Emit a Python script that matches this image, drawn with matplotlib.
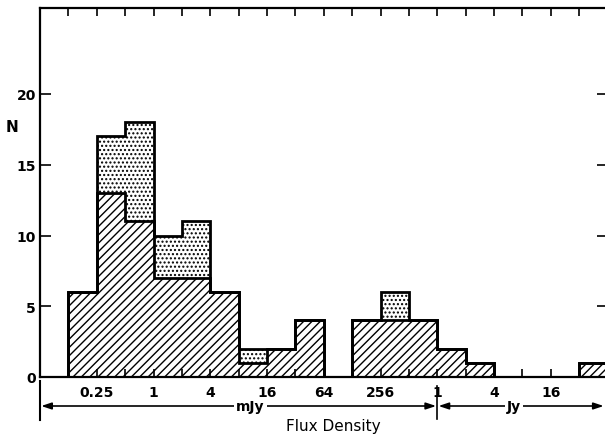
import numpy as np
import matplotlib
matplotlib.use("Agg")
import matplotlib.pyplot as plt
from matplotlib.lines import Line2D
from matplotlib.ticker import NullFormatter, NullLocator

# Bin edges in mJy (factor-of-2 bins)
bin_edges_mjy = [0.125, 0.25, 0.5, 1, 2, 4, 8, 16, 32, 64, 128, 256, 512,
                 1024, 2048, 4096, 8192, 16384, 32768, 65536]
# Hatched (lower) counts per bin
hatched_counts = [6, 13, 11, 7, 7, 6, 1, 2, 4, 0, 4, 4, 4, 2, 1, 0, 0, 0, 1]
# Total counts (hatched + stippled)
total_counts = [6, 17, 18, 10, 11, 6, 2, 2, 4, 0, 4, 6, 4, 2, 1, 0, 0, 0, 1]

tick_positions_mjy = [0.25, 1, 4, 16, 64, 256, 1024, 4096, 16384]
tick_labels = ["0.25", "1", "4", "16", "64", "256", "1", "4", "16"]
y_ticks = [0, 5, 10, 15, 20]

plt.rcParams['hatch.linewidth'] = 1.0
plt.rcParams['font.family'] = ['DejaVu Sans']

W, H = 605, 439
fig = plt.figure(figsize=(W / 100, H / 100), dpi=100)
x_left, x_right = 40, 607.6
y_bot, y_top = 378, 9
ax = fig.add_axes([x_left / W, 1 - y_bot / H, (x_right - x_left) / W, (y_bot - y_top) / H])
ax.set_xscale('log', base=2)
ax.set_xlim(1 / 16, 65536)
ax.set_ylim(0, 369 / 14.15)

edges = np.array(bin_edges_mjy, dtype=float)
total = np.array(total_counts, dtype=float)
hatched = np.array(hatched_counts, dtype=float)

# stippled region (total), then hatched on top
ax.stairs(total, edges, baseline=0, fill=True, facecolor='white',
          edgecolor='black', hatch='....', linewidth=0)
ax.stairs(hatched, edges, baseline=0, fill=True, facecolor='white',
          edgecolor='black', hatch='////', linewidth=0)
ax.stairs(hatched, edges, baseline=0, fill=False, color='black', linewidth=2.0)
ax.stairs(total, edges, baseline=0, fill=False, color='black', linewidth=2.0)

# spines
for s in ax.spines.values():
    s.set_linewidth(1.6)

# ticks
ax.set_xticks(tick_positions_mjy)
ax.set_xticklabels(tick_labels, fontsize=10, fontweight='bold')
ax.set_xticks(edges[:-1], minor=True)
ax.xaxis.set_minor_formatter(NullFormatter())
ax.tick_params(axis='x', which='major', direction='in', length=6, width=1.2,
               top=True, bottom=True, pad=6)
ax.tick_params(axis='x', which='minor', direction='in', length=6, width=1.2,
               top=True, bottom=True)
ax.set_yticks(y_ticks)
ax.set_yticklabels([str(v) for v in y_ticks], fontsize=10, fontweight='bold')
ax.tick_params(axis='y', which='major', direction='in', length=8, width=1.2,
               left=True, right=True, pad=3)
ax.yaxis.set_minor_locator(NullLocator())

# y label "N"
ax.text(-0.05, 17.7, "N", transform=ax.get_yaxis_transform(), fontsize=11,
        fontweight='bold', ha='center', va='center')

# unit arrows below axis
trans = ax.get_xaxis_transform()
def yfrac(py):
    return (y_bot - py) / (y_bot - y_top)

y_arrow = yfrac(407)
mjy_x = 2 ** 3.42
jy_x = 2 ** 12.7
arrow_kw = dict(arrowstyle='<|-|>,head_length=0.6,head_width=0.2', color='black', lw=1.2,
                shrinkA=0, shrinkB=0)
ax.annotate("", xy=(1 / 16 * 1.03, y_arrow), xytext=(1024 / 1.03, y_arrow),
            xycoords=trans, textcoords=trans, arrowprops=arrow_kw, annotation_clip=False)
ax.annotate("", xy=(1024 * 1.03, y_arrow), xytext=(65536 / 1.1, y_arrow),
            xycoords=trans, textcoords=trans, arrowprops=arrow_kw, annotation_clip=False)
bbox_kw = dict(facecolor='white', edgecolor='none', pad=1.5)
ax.text(mjy_x, y_arrow, "mJy", transform=trans, ha='center', va='center',
        fontsize=10, fontweight='bold', bbox=bbox_kw, zorder=5)
ax.text(jy_x, y_arrow, "Jy", transform=trans, ha='center', va='center',
        fontsize=10, fontweight='bold', bbox=bbox_kw, zorder=5)
ax.add_line(Line2D([1 / 16, 1 / 16], [yfrac(382), yfrac(421)], transform=trans,
                   color='black', lw=1.5, clip_on=False))
ax.add_line(Line2D([1024, 1024], [yfrac(387), yfrac(420)], transform=trans,
                   color='black', lw=1.2, clip_on=False))

ax.text(2 ** 6.35, yfrac(427), "Flux Density", transform=trans, ha='center',
        va='center', fontsize=11)

fig.savefig("out.png", dpi=100)
